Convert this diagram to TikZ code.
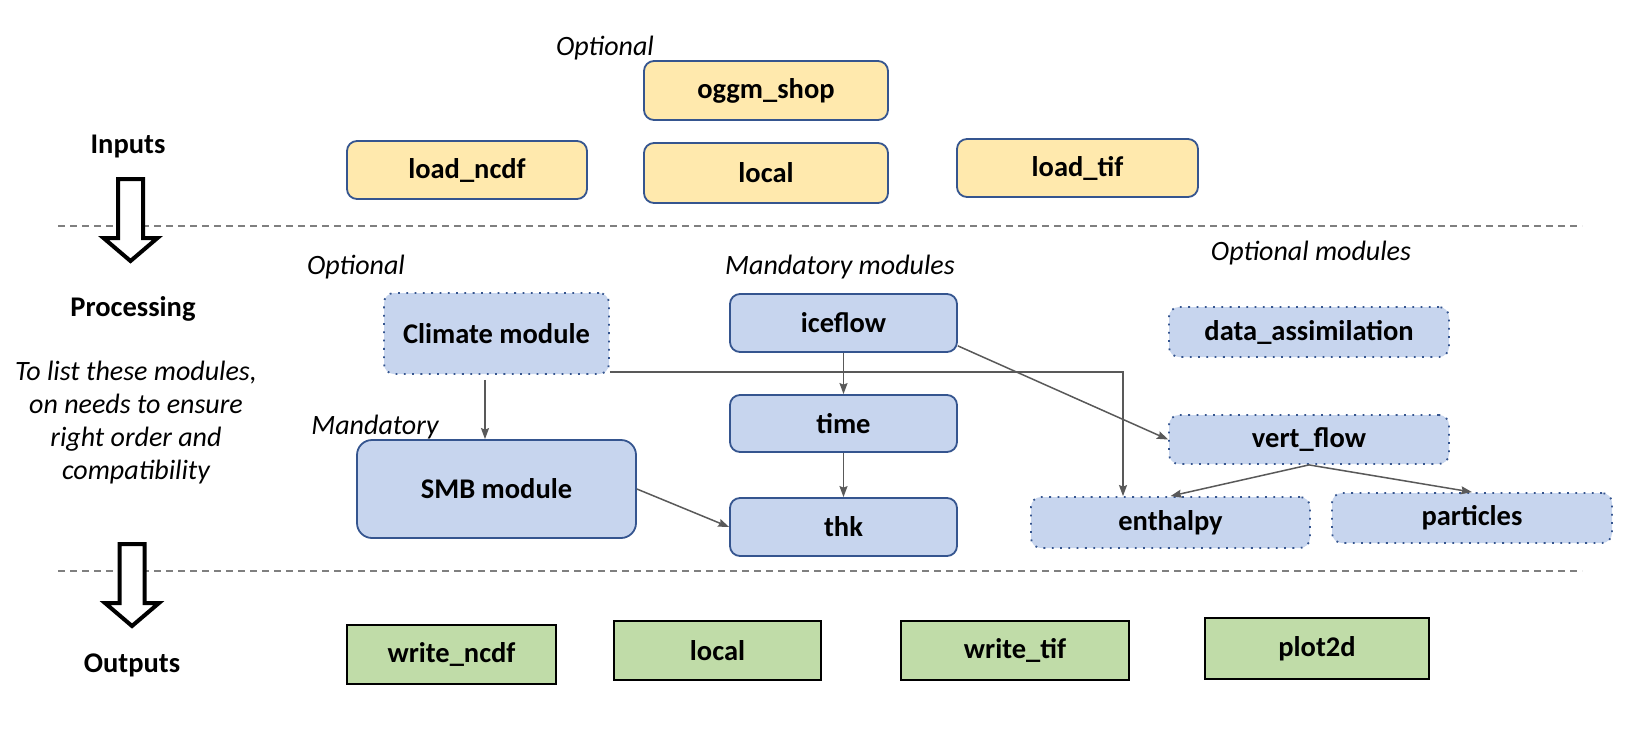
\documentclass[tikz,border=0pt]{standalone}
\usepackage{fontspec}
\setmainfont{Carlito}
\usetikzlibrary{arrows.meta}
\definecolor{yelfill}{HTML}{FFE9AD}
\definecolor{bluefill}{HTML}{C7D5EE}
\definecolor{bordblue}{HTML}{35558F}
\definecolor{greenfill}{HTML}{C0DCA8}
\definecolor{conngray}{HTML}{595959}
\definecolor{dashgray}{HTML}{7F7F7F}
\tikzset{
  boxtext/.style={font=\fontsize{28.5}{32}\selectfont\bfseries, text=black, inner sep=0pt},
  inbox/.style={boxtext, draw=bordblue, fill=yelfill, line width=1.8pt, rounded corners=10pt},
  modbox/.style={boxtext, draw=bordblue, fill=bluefill, line width=1.8pt, rounded corners=10pt},
  optbox/.style={boxtext, draw=bordblue, fill=bluefill, line width=1.8pt, rounded corners=10pt, dash pattern=on 1.8pt off 6.5pt},
  outbox/.style={boxtext, draw=black, fill=greenfill, line width=2pt},
  sectlabel/.style={font=\fontsize{28.5}{32}\selectfont\bfseries, inner sep=0pt},
  itlabel/.style={font=\fontsize{28}{32}\selectfont\itshape, inner sep=0pt},
  conn/.style={draw=conngray, line width=1.5pt, -{Stealth[length=11pt,width=8pt,inset=1.5pt]}},
  sepline/.style={draw=dashgray, line width=1.5pt, dash pattern=on 7pt off 5pt},
  hollow/.style={draw=black, line width=4pt, line join=miter, fill=white}
}
\begin{document}
\begin{tikzpicture}[x=1pt,y=-1pt]
\useasboundingbox (0,0) rectangle (1638,742);

% separators
\coordinate (s1a) at (58,226); \coordinate (s1b) at (1582,226);
\coordinate (s2a) at (58,571); \coordinate (s2b) at (1582,571);
\draw[sepline] (s1a) -- (s1b);
\draw[sepline] (s2a) -- (s2b);

% hollow arrows
\draw[hollow] (118,179) -- (143,179) -- (143,238) -- (157.5,238) -- (130.5,261) -- (103.5,238) -- (118,238) -- cycle;
\draw[hollow] (119.5,544) -- (144.5,544) -- (144.5,603) -- (159,603) -- (132,626) -- (105,603) -- (119.5,603) -- cycle;

% section labels
\node[sectlabel] (lin) at (128,146) {Inputs};
\node[sectlabel] (lproc) at (133,309) {Processing};
\node[sectlabel] (lout) at (132,665) {Outputs};
\node[itlabel, align=center, font=\fontsize{28}{33}\selectfont\itshape] (note) at (136,423)
  {To list these modules,\\on needs to ensure\\right order and\\compatibility};

% inputs
\node[itlabel] (optin) at (605,48) {Optional};
\node[inbox, minimum width=244pt, minimum height=59pt] (oggm) at (766,90.5) {oggm\_shop};
\node[inbox, minimum width=244pt, minimum height=60pt] (localin) at (766,173) {local};
\node[inbox, minimum width=240pt, minimum height=58pt] (loadncdf) at (467,170) {load\_ncdf};
\node[inbox, minimum width=241pt, minimum height=58pt] (loadtif) at (1077.5,168) {load\_tif};

% processing
\node[itlabel] (optproc) at (356,267) {Optional};
\node[itlabel] (mand) at (375,427) {Mandatory};
\node[itlabel] (mandmod) at (840,267) {Mandatory modules};
\node[itlabel] (optmod) at (1311,253) {Optional modules};

\node[optbox, minimum width=225pt, minimum height=81pt] (climate) at (496.5,333.5) {Climate module};
\node[modbox, rounded corners=15pt, minimum width=279pt, minimum height=98pt] (smb) at (496.5,489) {SMB module};
\node[modbox, minimum width=227pt, minimum height=58pt] (iceflow) at (843.5,323) {iceflow};
\node[modbox, minimum width=227pt, minimum height=57pt] (time) at (843.5,423.5) {time};
\node[modbox, minimum width=227pt, minimum height=58pt] (thk) at (843.5,527) {thk};
\node[optbox, minimum width=280pt, minimum height=50pt] (dassim) at (1309,332) {data\_assimilation};
\node[optbox, minimum width=280pt, minimum height=49pt] (vert) at (1309,439.5) {vert\_flow};
\node[optbox, minimum width=279pt, minimum height=51pt] (enth) at (1170.5,522.5) {enthalpy};
\node[optbox, minimum width=280pt, minimum height=50pt] (part) at (1472,518) {particles};

% outputs
\node[outbox, minimum width=209pt, minimum height=59pt] (wncdf) at (451.5,654.5) {write\_ncdf};
\node[outbox, minimum width=207pt, minimum height=59pt] (localout) at (717.5,650.5) {local};
\node[outbox, minimum width=228pt, minimum height=59pt] (wtif) at (1015,650.5) {write\_tif};
\node[outbox, minimum width=224pt, minimum height=61pt] (plot) at (1317,648.5) {plot2d};

% connectors
\draw[conn, shorten <=5pt] ([xshift=-11.5pt]climate.south) -- ([xshift=-11.5pt]smb.north);
\draw[conn] ([yshift=3pt]climate.south east) -| ([xshift=-47.5pt]enth.north);
\draw[conn] ([yshift=7pt]iceflow.south east) -- (vert.west);
\draw[conn] (iceflow.south) -- (time.north);
\draw[conn] (time.south) -- (thk.north);
\draw[conn] (smb.east) -- (thk.west);
\draw[conn] (vert.south) -- (enth.north);
\draw[conn] (vert.south) -- (part.north);
\end{tikzpicture}
\end{document}
